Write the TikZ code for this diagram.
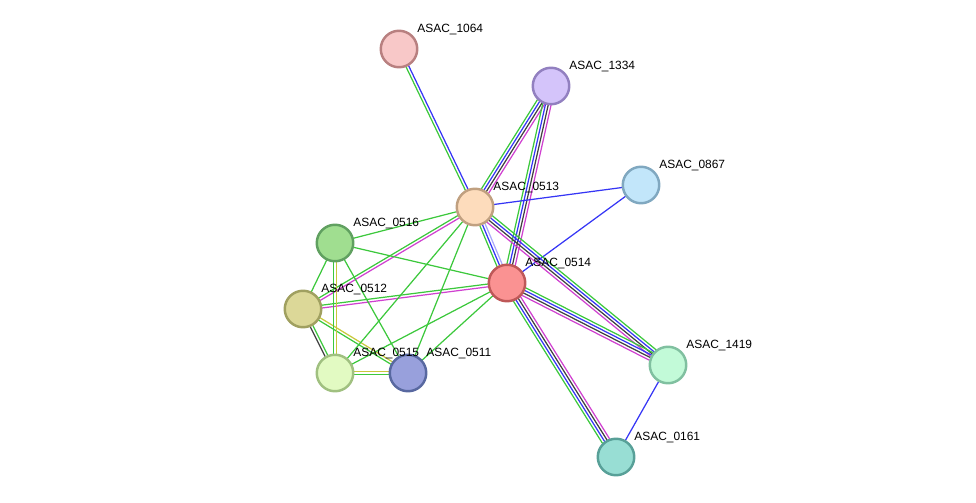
\documentclass[tikz,border=0pt]{standalone}
\usepackage{fontspec}
\setmainfont{Liberation Sans}
\usetikzlibrary{calc,backgrounds}
\definecolor{eGRN}{HTML}{3CC83C}
\definecolor{eBLU}{HTML}{3535F5}
\definecolor{eBLK}{HTML}{404040}
\definecolor{eMAG}{HTML}{D040D0}
\definecolor{eYEL}{HTML}{C8C83C}
\definecolor{eLBL}{HTML}{A8A8FA}

% parallel evidence lines between two proteins
\newcommand{\bundle}[3]{%
  \foreach \col [count=\k] in {#3} {\xdef\nlines{\k}}%
  \foreach \col [count=\k] in {#3} {%
    \pgfmathsetmacro{\off}{(\k-(\nlines+1)/2)*1.6}%
    \draw[edge, \col] ($(#1)!\off pt!90:(#2)$) -- ($(#2)!\off pt!-90:(#1)$);}}

\begin{document}
\begin{tikzpicture}[x=0.02cm, y=-0.02cm, font=\fontsize{6.8}{8}\selectfont,
  prot/.style={circle, draw, line width=1.4pt, minimum size=0.73cm, inner sep=0pt},
  lbl/.style={anchor=west, inner sep=0pt},
  edge/.style={line width=0.7pt}]
\useasboundingbox (0,0) rectangle (976,503);
% proteins
\node[prot, fill={rgb,255:red,248;green,200;blue,200}, draw={rgb,255:red,184;green,128;blue,128}] (n1064) at (399,49) {};
\node[prot, fill={rgb,255:red,212;green,196;blue,250}, draw={rgb,255:red,146;green,128;blue,192}] (n1334) at (551,86) {};
\node[prot, fill={rgb,255:red,194;green,230;blue,250}, draw={rgb,255:red,128;green,168;blue,192}] (n0867) at (641,185) {};
\node[prot, fill={rgb,255:red,253;green,220;blue,188}, draw={rgb,255:red,192;green,160;blue,128}] (n0513) at (475,207) {};
\node[prot, fill={rgb,255:red,160;green,222;blue,144}, draw={rgb,255:red,96;green,160;blue,96}] (n0516) at (335,243) {};
\node[prot, fill={rgb,255:red,250;green,146;blue,146}, draw={rgb,255:red,190;green,88;blue,88}] (n0514) at (507,283) {};
\node[prot, fill={rgb,255:red,220;green,216;blue,152}, draw={rgb,255:red,160;green,160;blue,96}] (n0512) at (303,309) {};
\node[prot, fill={rgb,255:red,226;green,250;blue,194}, draw={rgb,255:red,160;green,192;blue,128}] (n0515) at (335,373) {};
\node[prot, fill={rgb,255:red,152;green,160;blue,220}, draw={rgb,255:red,88;green,104;blue,160}] (n0511) at (408,373) {};
\node[prot, fill={rgb,255:red,194;green,250;blue,216}, draw={rgb,255:red,128;green,192;blue,160}] (n1419) at (668,365) {};
\node[prot, fill={rgb,255:red,152;green,222;blue,212}, draw={rgb,255:red,88;green,160;blue,152}] (n0161) at (616,457) {};
% labels
\foreach \n/\x/\y in {1064/399/49, 1334/551/86, 0867/641/185, 0513/475/207, 0516/335/243,
  0514/507/283, 0512/303/309, 0515/335/373, 0511/408/373, 1419/668/365, 0161/616/457}
  \node[lbl] (t\n) at (\x+18,\y-19) {ASAC\_\n};
% evidence lines
\begin{scope}[on background layer]
\bundle{n1064}{n0513}{eGRN,eBLU}
\bundle{n1334}{n0513}{eGRN,eBLU,eBLK,eMAG}
\bundle{n1334}{n0514}{eGRN,eBLU,eBLK,eMAG}
\bundle{n0513}{n0867}{eBLU}
\bundle{n0514}{n0867}{eBLU}
\bundle{n0513}{n0514}{eGRN,eBLU,eLBL}
\bundle{n0513}{n1419}{eMAG,eBLK,eBLU,eGRN}
\bundle{n0514}{n1419}{eMAG,eBLK,eBLU,eGRN}
\bundle{n0514}{n0161}{eGRN,eBLU,eBLK,eMAG}
\bundle{n1419}{n0161}{eBLU}
\bundle{n0512}{n0513}{eMAG,eGRN}
\bundle{n0512}{n0514}{eMAG,eGRN}
\bundle{n0512}{n0515}{eBLK,eGRN}
\bundle{n0512}{n0511}{eGRN,eYEL}
\bundle{n0515}{n0511}{eGRN,eYEL}
\bundle{n0516}{n0515}{eGRN,eYEL}
\foreach \a/\b in {0516/0513, 0516/0514, 0516/0512, 0516/0511, 0515/0513, 0511/0513, 0515/0514, 0511/0514}
  {\bundle{n\a}{n\b}{eGRN}}
\end{scope}
\end{tikzpicture}
\end{document}
